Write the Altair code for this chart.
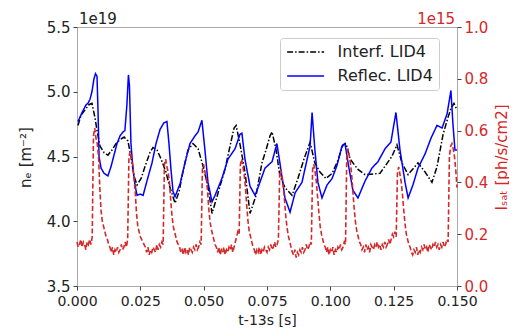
import altair as alt
import pandas as pd

FONT = "DejaVu Sans"
RED = "#d62728"

# ---- data (n_e in units of 1e19 m^-2, Isat in units of 1e15) ----
series_names = ["Interf. LID4", "Reflec. LID4"]

interf_t = [0.0004, 0.0016, 0.0032, 0.0047, 0.0059, 0.0071, 0.0079, 0.0091, 0.0107, 0.0122,
            0.0138, 0.0154, 0.0170, 0.0186, 0.0201, 0.0213, 0.0225, 0.0237, 0.0253, 0.0268,
            0.0288, 0.0300, 0.0316, 0.0332, 0.0351, 0.0367, 0.0387, 0.0403, 0.0418, 0.0438,
            0.0458, 0.0478, 0.0497, 0.0517, 0.0533, 0.0557, 0.0584, 0.0604, 0.0620, 0.0628,
            0.0643, 0.0663, 0.0683, 0.0707, 0.0730, 0.0746, 0.0762, 0.0770, 0.0786, 0.0801,
            0.0821, 0.0849, 0.0872, 0.0896, 0.0920, 0.0939, 0.0959, 0.0983, 0.1007, 0.1030,
            0.1050, 0.1062, 0.1078, 0.1109, 0.1137, 0.1196, 0.1243, 0.1263, 0.1283, 0.1307,
            0.1346, 0.1374, 0.1401, 0.1421, 0.1445, 0.1464, 0.1476, 0.1488, 0.1500]
interf_ne = [4.74, 4.82, 4.86, 4.90, 4.91, 4.80, 4.70, 4.58, 4.53, 4.51,
             4.55, 4.60, 4.63, 4.65, 4.62, 4.50, 4.35, 4.28, 4.33, 4.42,
             4.53, 4.57, 4.55, 4.48, 4.38, 4.26, 4.14, 4.23, 4.38, 4.55,
             4.60, 4.56, 4.43, 4.27, 4.06, 4.22, 4.40, 4.58, 4.72, 4.74,
             4.60, 4.38, 4.06, 4.20, 4.45, 4.55, 4.66, 4.69, 4.55, 4.35,
             4.26, 4.20, 4.33, 4.48, 4.61, 4.45, 4.38, 4.33, 4.37, 4.47,
             4.59, 4.60, 4.48, 4.40, 4.36, 4.37, 4.50, 4.59, 4.45, 4.36,
             4.45, 4.38, 4.30, 4.42, 4.67, 4.80, 4.87, 4.91, 4.86]

reflec_t = [0.0004, 0.0020, 0.0036, 0.0043, 0.0051, 0.0059, 0.0067, 0.0073, 0.0079, 0.0083,
            0.0087, 0.0095, 0.0107, 0.0122, 0.0134, 0.0146, 0.0158, 0.0170, 0.0182, 0.0189,
            0.0197, 0.0203, 0.0207, 0.0213, 0.0221, 0.0229, 0.0237, 0.0249, 0.0261, 0.0276,
            0.0296, 0.0312, 0.0328, 0.0343, 0.0355, 0.0363, 0.0371, 0.0379, 0.0387, 0.0407,
            0.0426, 0.0446, 0.0466, 0.0478, 0.0493, 0.0505, 0.0517, 0.0533, 0.0545, 0.0572,
            0.0596, 0.0624, 0.0643, 0.0651, 0.0663, 0.0683, 0.0703, 0.0722, 0.0742, 0.0770,
            0.0789, 0.0801, 0.0821, 0.0841, 0.0861, 0.0888, 0.0904, 0.0920, 0.0928, 0.0939,
            0.0951, 0.0967, 0.0987, 0.1007, 0.1026, 0.1046, 0.1058, 0.1070, 0.1089, 0.1109,
            0.1137, 0.1164, 0.1188, 0.1216, 0.1239, 0.1259, 0.1275, 0.1295, 0.1307, 0.1326,
            0.1346, 0.1374, 0.1397, 0.1421, 0.1441, 0.1461, 0.1476, 0.1484, 0.1492, 0.1500]
reflec_ne = [4.77, 4.84, 4.90, 4.91, 4.94, 5.00, 5.10, 5.14, 5.12, 4.85,
             4.50, 4.41, 4.37, 4.35, 4.42, 4.51, 4.60, 4.66, 4.69, 4.70,
             4.90, 5.13, 5.05, 4.60, 4.40, 4.28, 4.20, 4.21, 4.20, 4.31,
             4.45, 4.60, 4.71, 4.76, 4.77, 4.60, 4.40, 4.23, 4.19, 4.29,
             4.45, 4.60, 4.66, 4.69, 4.78, 4.55, 4.30, 4.15, 4.20, 4.33,
             4.48, 4.56, 4.67, 4.68, 4.48, 4.27, 4.20, 4.30, 4.41, 4.46,
             4.60, 4.45, 4.18, 4.07, 4.22, 4.30, 4.44, 4.58, 4.84, 4.55,
             4.30, 4.18, 4.28, 4.33, 4.43, 4.58, 4.60, 4.45, 4.24, 4.18,
             4.31, 4.41, 4.46, 4.56, 4.61, 4.84, 4.55, 4.30, 4.18, 4.28,
             4.41, 4.52, 4.64, 4.74, 4.72, 4.83, 5.01, 4.75, 4.55, 4.55]

isat_dt = 0.0005
isat = [0.17, 0.15, 0.16, 0.18, 0.15, 0.17, 0.16, 0.14, 0.17, 0.16,
        0.18, 0.16, 0.19, 0.58, 0.61, 0.57, 0.55, 0.50, 0.38, 0.29,
        0.25, 0.23, 0.21, 0.19, 0.18, 0.16, 0.15, 0.13, 0.15, 0.12,
        0.14, 0.13, 0.15, 0.13, 0.14, 0.16, 0.14, 0.15, 0.17, 0.15,
        0.18, 0.50, 0.52, 0.49, 0.47, 0.42, 0.36, 0.28, 0.23, 0.21,
        0.19, 0.18, 0.17, 0.16, 0.15, 0.13, 0.15, 0.12, 0.14, 0.13,
        0.15, 0.14, 0.13, 0.16, 0.14, 0.16, 0.15, 0.17, 0.16, 0.47,
        0.49, 0.46, 0.44, 0.40, 0.33, 0.27, 0.23, 0.21, 0.19, 0.17,
        0.16, 0.15, 0.13, 0.14, 0.12, 0.15, 0.13, 0.14, 0.12, 0.15,
        0.14, 0.13, 0.15, 0.14, 0.16, 0.14, 0.15, 0.17, 0.16, 0.45,
        0.47, 0.44, 0.42, 0.37, 0.30, 0.25, 0.22, 0.20, 0.18, 0.16,
        0.15, 0.13, 0.15, 0.12, 0.14, 0.13, 0.15, 0.12, 0.14, 0.13,
        0.15, 0.14, 0.16, 0.13, 0.15, 0.17, 0.19, 0.21, 0.20, 0.47,
        0.49, 0.46, 0.43, 0.38, 0.31, 0.25, 0.21, 0.19, 0.17, 0.15,
        0.14, 0.12, 0.14, 0.13, 0.15, 0.12, 0.14, 0.13, 0.15, 0.14,
        0.13, 0.15, 0.14, 0.16, 0.14, 0.15, 0.17, 0.15, 0.16, 0.18,
        0.43, 0.45, 0.42, 0.38, 0.32, 0.26, 0.22, 0.19, 0.17, 0.15,
        0.13, 0.12, 0.14, 0.11, 0.13, 0.12, 0.14, 0.13, 0.15, 0.13,
        0.14, 0.16, 0.14, 0.15, 0.17, 0.16, 0.45, 0.47, 0.44, 0.40,
        0.34, 0.28, 0.23, 0.20, 0.18, 0.16, 0.15, 0.13, 0.15, 0.12,
        0.14, 0.13, 0.15, 0.12, 0.14, 0.13, 0.15, 0.14, 0.16, 0.14,
        0.15, 0.17, 0.16, 0.51, 0.53, 0.50, 0.47, 0.42, 0.35, 0.29,
        0.24, 0.21, 0.19, 0.17, 0.16, 0.14, 0.15, 0.13, 0.16, 0.14,
        0.15, 0.13, 0.16, 0.15, 0.14, 0.16, 0.15, 0.17, 0.15, 0.16,
        0.14, 0.16, 0.15, 0.17, 0.15, 0.16, 0.18, 0.16, 0.18, 0.20,
        0.19, 0.21, 0.19, 0.44, 0.46, 0.43, 0.40, 0.35, 0.29, 0.24,
        0.20, 0.18, 0.16, 0.15, 0.13, 0.12, 0.14, 0.13, 0.15, 0.12,
        0.14, 0.13, 0.15, 0.14, 0.16, 0.14, 0.15, 0.13, 0.16, 0.15,
        0.14, 0.16, 0.15, 0.17, 0.15, 0.16, 0.14, 0.16, 0.15, 0.17,
        0.15, 0.16, 0.18, 0.17, 0.50, 0.54, 0.55, 0.53, 0.50, 0.45,
        0.38]
isat_t = [round(i * isat_dt, 4) for i in range(len(isat))]

x_ticks = [0.0, 0.025, 0.05, 0.075, 0.1, 0.125, 0.15]
ne_ticks = [3.5, 4.0, 4.5, 5.0, 5.5]
isat_ticks = [0.0, 0.2, 0.4, 0.6, 0.8, 1.0]

df_ne = pd.DataFrame({
    "t": interf_t + reflec_t,
    "ne": interf_ne + reflec_ne,
    "series": [series_names[0]] * len(interf_t) + [series_names[1]] * len(reflec_t),
})
df_isat = pd.DataFrame({"t": isat_t, "isat": isat})

x_scale = alt.Scale(domain=[0, 0.15], nice=False, zero=False)
x_axis = alt.Axis(values=x_ticks, format=".3f", title="t-13s [s]",
                  labelFlush=False, labelOverlap=False, labelPadding=4.8, labelFontSize=14,
                  titleFontSize=14, titleX=190, titleY=38.6, titleBaseline="alphabetic")

legend = alt.Legend(title=None, orient="none", legendX=203, legendY=11,
                    symbolType="M-3,0H3", symbolSize=152, symbolStrokeWidth=1.5,
                    symbolOffset=11.6, labelOffset=24,
                    labelFontSize=16, labelFont=FONT, labelColor="#222",
                    fillColor="white", strokeColor="#cccccc", cornerRadius=3,
                    padding=6, rowPadding=8)

ne_layer = alt.Chart(df_ne).mark_line(strokeWidth=1.5).encode(
    x=alt.X("t:Q", scale=x_scale, axis=x_axis),
    y=alt.Y("ne:Q", scale=alt.Scale(domain=[3.5, 5.5], nice=False, zero=False),
            axis=alt.Axis(values=ne_ticks, format=".1f", title="nₑ [m⁻²]",
                          titleX=-52, titleY=130, titleAngle=270,
                          titleAlign="center", titleBaseline="middle")),
    color=alt.Color("series:N", scale=alt.Scale(domain=series_names, range=["black", "blue"]),
                    legend=legend),
    strokeDash=alt.StrokeDash("series:N",
                              scale=alt.Scale(domain=series_names, range=[[6, 2, 1.5, 2], [1, 0]]),
                              legend=legend),
)

isat_layer = alt.Chart(df_isat).mark_line(color=RED, strokeWidth=1.6, strokeDash=[5, 2.5]).encode(
    x=alt.X("t:Q", scale=x_scale, axis=x_axis),
    y=alt.Y("isat:Q", scale=alt.Scale(domain=[0, 1], nice=False, zero=False),
            axis=alt.Axis(orient="right", values=isat_ticks, format=".1f",
                          title="Iₛₐₜ [ph/s/cm2]", labelColor=RED, titleColor=RED,
                          titleX=44, titleY=130, titleAngle=270,
                          titleAlign="center", titleBaseline="middle")),
)

offset_left = alt.Chart(pd.DataFrame({"txt": ["1e19"]})).mark_text(
    align="left", baseline="alphabetic", fontSize=15, font=FONT, color="#222"
).encode(x=alt.value(2), y=alt.value(-3), text="txt:N")

offset_right = alt.Chart(pd.DataFrame({"txt": ["1e15"]})).mark_text(
    align="right", baseline="alphabetic", fontSize=15, font=FONT, color=RED
).encode(x=alt.value(378), y=alt.value(-3), text="txt:N")

chart = alt.layer(ne_layer, isat_layer, offset_left, offset_right).resolve_scale(
    y="independent"
).properties(
    width=380, height=259,
    autosize=alt.AutoSizeParams(type="none"),
    padding={"left": 69, "top": 19, "right": 52, "bottom": 42},
).configure_view(
    stroke="#aaaaaa", strokeWidth=1
).configure_axis(
    domain=False, grid=False, tickSize=4, tickColor="#444", tickWidth=1,
    labelFont=FONT, labelFontSize=15, labelColor="#222", labelPadding=3,
    titleFont=FONT, titleFontSize=15, titleColor="#222", titleFontWeight="normal",
)

chart.save("out.html", embed_options={"renderer": "svg", "actions": False})
